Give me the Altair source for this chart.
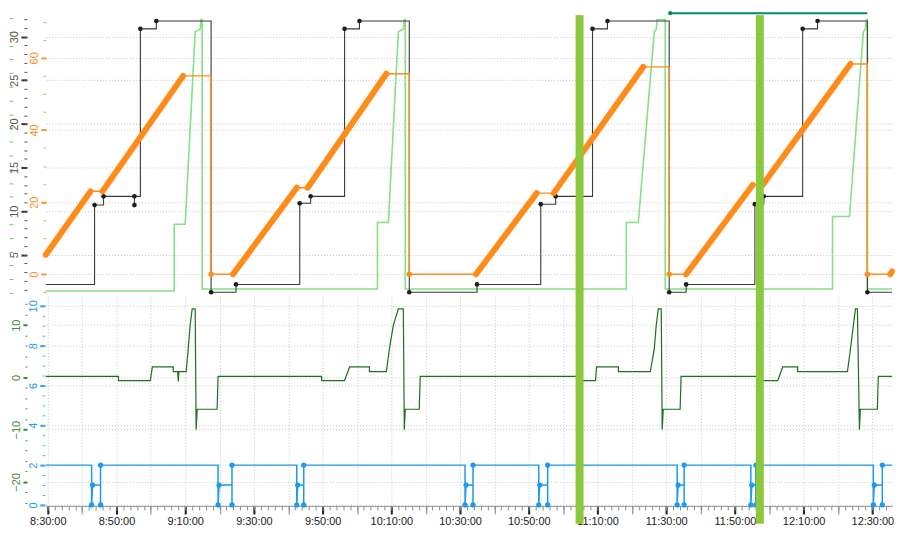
import altair as alt
import pandas as pd

DAY = "2024-01-01T"
X_START, X_END = "08:29:26", "12:35:44"

# ---------------- data ----------------
black_t = [X_START, "08:43:37", "08:43:37", "08:46:14", "08:46:14", "08:55:13", "08:55:13", "08:55:13",
           "08:56:57", "08:56:57", "09:01:36", "09:01:36", "09:17:32", "09:17:32", "09:24:47", "09:24:47",
           "09:43:20", "09:43:20", "09:46:31", "09:46:31", "09:56:23", "09:56:23", "10:00:43", "10:00:43",
           "10:15:13", "10:15:13", "10:34:56", "10:34:56", "10:53:29", "10:53:29", "10:57:50", "10:57:50",
           "11:08:33", "11:08:33", "11:12:54", "11:12:54", "11:30:52", "11:30:52", "11:35:48", "11:35:48",
           "11:55:48", "11:55:48", "11:58:24", "11:58:24", "12:09:43", "12:09:43", "12:14:03", "12:14:03",
           "12:28:33", "12:28:33", X_END]
black_v = [1.6, 1.6, 10.7, 10.7, 11.7, 11.7, 10.7, 11.7,
           11.7, 30.9, 30.9, 31.8, 31.8, 0.7, 0.7, 1.6,
           1.6, 10.9, 10.9, 11.7, 11.7, 30.9, 30.9, 31.8,
           31.8, 0.7, 0.7, 1.6, 1.6, 10.8, 10.8, 11.7,
           11.7, 30.9, 30.9, 31.8, 31.8, 0.7, 0.7, 1.6,
           1.6, 10.8, 10.8, 11.7, 11.7, 30.9, 30.9, 31.8,
           31.8, 0.7, 0.7]
black_m = [0, 0, 1, 0, 1, 1, 1, 0,
           0, 1, 0, 1, 0, 1, 0, 1,
           0, 1, 0, 1, 0, 1, 0, 1,
           0, 1, 0, 1, 0, 1, 0, 1,
           0, 1, 0, 1, 0, 1, 0, 1,
           0, 1, 0, 1, 0, 1, 0, 1,
           0, 1, 0]

orange_t = [X_START, "08:42:28", "08:45:56", "09:09:25", "09:17:32", "09:17:32", "09:23:55", "09:42:28",
            "09:45:39", "10:08:33", "10:15:13", "10:15:13", "10:34:38", "10:52:19", "10:57:15", "11:23:20",
            "11:30:52", "11:30:52", "11:35:48", "11:55:13", "11:58:07", "12:23:37", "12:28:33", "12:28:33",
            "12:35:13", X_END]
orange_v = [5.4, 23.0, 23.0, 55.0, 55.0, 0.0, 0.0, 24.0,
            24.0, 55.6, 55.6, 0.0, 0.0, 22.5, 22.5, 57.5,
            57.5, 0.0, 0.0, 24.8, 24.8, 58.3, 58.3, 0.0,
            0.0, 0.8]
orange_ramp = [1, 0, 1, 0, 0, 0, 1, 0,
               1, 0, 0, 0, 1, 0, 1, 0,
               0, 0, 1, 0, 1, 0, 0, 0,
               1, 0]
orange_m = [0, 0, 0, 0, 0, 1, 0, 0,
            0, 0, 0, 1, 0, 0, 0, 0,
            0, 1, 0, 0, 0, 0, 0, 1,
            0, 0]

lgreen_t = [X_START, "09:06:49", "09:06:49", "09:10:00", "09:12:54", "09:14:21", "09:14:38", "09:14:56",
            "09:14:56", "10:05:57", "10:05:57", "10:09:08", "10:12:02", "10:13:29", "10:13:46", "10:14:03",
            "10:14:03", "11:18:24", "11:18:24", "11:21:53", "11:26:31", "11:27:06", "11:27:23", "11:29:43",
            "11:29:43", "12:18:24", "12:18:24", "12:23:20", "12:27:23", "12:27:58", "12:28:16", "12:28:33",
            "12:28:33", X_END]
lgreen_v = [0.7, 0.7, 25.0, 25.0, 95.0, 96.0, 99.5, 99.5,
            1.4, 1.4, 25.6, 25.6, 95.0, 96.0, 99.5, 99.5,
            1.4, 1.4, 25.6, 25.6, 95.0, 96.0, 99.5, 99.5,
            1.4, 1.4, 27.8, 27.8, 95.0, 96.0, 99.5, 99.5,
            1.4, 1.4]

dgreen_t = [X_START, "08:50:35", "08:50:35", "08:59:51", "09:00:26", "09:06:31", "09:06:31", "09:07:50",
            "09:07:58", "09:08:10", "09:10:17", "09:10:52", "09:11:27", "09:12:02", "09:12:54", "09:13:11",
            "09:13:29", "09:19:17", "09:19:34",
            "09:49:43", "09:49:43", "09:56:23", "09:57:50", "10:03:37", "10:03:37", "10:08:33", "10:09:25",
            "10:10:35", "10:12:02", "10:13:29", "10:13:46", "10:14:03", "10:18:07", "10:18:24",
            "11:04:30", "11:04:30", "11:09:25", "11:09:43", "11:16:05", "11:16:05", "11:25:22", "11:26:31",
            "11:27:06", "11:27:41", "11:28:33", "11:28:50", "11:29:08", "11:34:03", "11:34:20",
            "11:56:40", "11:56:40", "12:02:28", "12:03:55", "12:08:16", "12:08:16", "12:22:45", "12:23:37",
            "12:24:29", "12:25:04", "12:25:39", "12:26:14", "12:26:30", "12:31:27", "12:31:44", X_END]
dgreen_v = [0.2, 0.2, -0.6, -0.6, 2.0, 2.0, 1.1, 1.1,
            -0.8, 1.1, 1.1, 5.4, 10.0, 13.1, 13.1, -10.0,
            -6.1, -6.1, 0.2,
            0.2, -0.6, -0.6, 2.0, 2.0, 1.1, 1.1, 5.4,
            10.0, 13.1, 13.1, -10.0, -6.1, -6.1, 0.2,
            0.2, -0.6, -0.6, 2.0, 2.0, 1.1, 1.1, 5.4,
            10.0, 13.1, 13.1, -10.0, -6.1, -6.1, 0.2,
            0.2, -0.6, -0.6, 2.0, 2.0, 1.1, 1.1, 5.4,
            10.0, 13.1, 13.1, -10.0, -6.1, -6.1, 0.2, 0.2]

blue_down = ["08:42:45", "09:19:34", "09:42:28", "10:31:27", "10:52:54", "11:33:11", "11:54:38", "12:30:17"]
blue_mid = ["08:43:03", "09:19:51", "09:42:45", "10:31:44", "10:53:11", "11:33:28", "11:54:55", "12:30:34"]
blue_up = ["08:45:22", "09:23:37", "09:44:30", "10:33:46", "10:55:30", "11:35:13", "11:56:05", "12:32:54"]
blue_levels = [2, 0, 1]

teal_t = ["11:31:10", "12:28:33"]
cursor_t = ["11:04:47", "11:57:15"]

x_labels = ["08:30:00", "08:50:00", "09:10:00", "09:30:00", "09:50:00", "10:10:00", "10:30:00",
            "10:50:00", "11:10:00", "11:30:00", "11:50:00", "12:10:00", "12:30:00"]
black_ticks = [5, 10, 15, 20, 25, 30]
black_minor = list(range(1, 33))
orange_ticks = [0, 20, 40, 60]
orange_minor = list(range(-5, 71, 5))
lgreen_ticks = list(range(0, 101, 5))
dgreen_ticks = [-20, -10, 0, 10]
dgreen_minor = list(range(-24, 16, 2))
blue_ticks = [0, 2, 4, 6, 8, 10]
blue_minor = [k / 2 for k in range(0, 21)]


def T(s):
    return DAY + s


def dt(s):
    h, m, sec = map(int, s.split(":"))
    return alt.DateTime(year=2024, month=1, date=1, hours=h, minutes=m, seconds=sec)


black_df = pd.DataFrame({"t": [T(s) for s in black_t], "v": black_v, "m": black_m,
                         "i": range(len(black_t))})
orange_df = pd.DataFrame({"t": [T(s) for s in orange_t], "v": orange_v, "m": orange_m,
                          "i": range(len(orange_t))})
thick_rows = []
for k in range(len(orange_t) - 1):
    if orange_ramp[k]:
        thick_rows.append({"t": T(orange_t[k]), "v": orange_v[k], "seg": k, "i": 0})
        thick_rows.append({"t": T(orange_t[k + 1]), "v": orange_v[k + 1], "seg": k, "i": 1})
thick_df = pd.DataFrame(thick_rows)
lgreen_df = pd.DataFrame({"t": [T(s) for s in lgreen_t], "v": lgreen_v, "i": range(len(lgreen_t))})
dgreen_df = pd.DataFrame({"t": [T(s) for s in dgreen_t], "v": dgreen_v, "i": range(len(dgreen_t))})

hi, lo, mid = blue_levels
blue_rows = [{"t": T(X_START), "v": hi, "m": 0}]
for d, mm, u in zip(blue_down, blue_mid, blue_up):
    blue_rows += [{"t": T(d), "v": hi, "m": 0}, {"t": T(d), "v": lo, "m": 1},
                  {"t": T(mm), "v": mid, "m": 1}, {"t": T(u), "v": mid, "m": 0},
                  {"t": T(u), "v": lo, "m": 1}, {"t": T(u), "v": hi, "m": 1}]
blue_rows.append({"t": T(X_END), "v": hi, "m": 0})
blue_df = pd.DataFrame(blue_rows)
blue_df["i"] = range(len(blue_df))

teal_df = pd.DataFrame({"t": [T(s) for s in teal_t], "v": [0.5, 0.5], "i": [0, 1]})
cursor_df = pd.DataFrame({"t": [T(s) for s in cursor_t]})

# 10-minute grid positions and 2-minute minor tick positions
grid_times = []
minor_times = []
for h in range(8, 13):
    for mnt in range(0, 60, 2):
        if (h, mnt) < (8, 30) or (h, mnt) > (12, 34):
            continue
        s = f"{h:02d}:{mnt:02d}:00"
        minor_times.append(s)
        if mnt % 10 == 0:
            grid_times.append(s)

W = 850
H_STRIP = 4
H_TOP = 276
H_BOT = 211
FONT = "Liberation Sans"
XFONT = "'Liberation Sans Narrow', 'Liberation Sans', sans-serif"
GRID = "#c6c6c6"
CURSOR = "#8cc83c"

xscale = alt.Scale(domain=[dt(X_START), dt(X_END)], nice=False)


def xnone():
    return alt.X("t:T", scale=xscale, axis=None)


def yaxis(offset, values, color, labelcolor, ticksize, grid, labels=True, tickwidth=2):
    return alt.Axis(
        orient="left", offset=offset, values=values, title="", domain=False,
        labels=labels, labelAngle=270, labelAlign="center", labelBaseline="bottom",
        labelColor=labelcolor, labelFont=FONT, labelFontSize=11, labelPadding=1,
        tickColor=color, tickSize=ticksize, tickWidth=tickwidth,
        grid=grid, gridColor=GRID, gridDash=[1, 2],
    )


black_scale = alt.Scale(domain=[0.63, 32.13], nice=False, zero=False)
orange_scale = alt.Scale(domain=[-5.15, 71.0], nice=False, zero=False)
lgreen_scale = alt.Scale(domain=[0, 100], nice=False, zero=False)
dgreen_scale = alt.Scale(domain=[-24.6, 15.6], nice=False, zero=False)
blue_scale = alt.Scale(domain=[-0.05, 10.5], nice=False, zero=False)

grid_x_axis = alt.Axis(orient="bottom", grid=True, gridColor=GRID, gridDash=[1, 2],
                       values=[dt(s) for s in grid_times], labels=False, ticks=False,
                       domain=False, title="")

# ---------------- status strip ----------------
strip = alt.layer(
    alt.Chart(teal_df).mark_line(color="#008a6e", strokeWidth=2).encode(
        x=xnone(), y=alt.Y("v:Q", scale=alt.Scale(domain=[0, 1]), axis=None), order="i:Q"),
    alt.Chart(teal_df).transform_filter("datum.i == 0").mark_circle(color="#008a6e", size=18, opacity=1).encode(
        x=xnone(), y=alt.Y("v:Q", scale=alt.Scale(domain=[0, 1]), axis=None)),
    alt.Chart(cursor_df).mark_rule(color=CURSOR, strokeWidth=8).encode(
        x=xnone(), y=alt.value(4), y2=alt.value(H_STRIP + 3)),
).properties(width=W, height=H_STRIP)

# ---------------- top panel ----------------
black_line = alt.Chart(black_df).mark_line(color="#3a3a3a", strokeWidth=1.1).encode(
    x=alt.X("t:T", scale=xscale, axis=grid_x_axis),
    y=alt.Y("v:Q", scale=black_scale, axis=yaxis(19, black_ticks, "#333333", "#555555", 6, True)),
    order="i:Q")
black_pts = alt.Chart(black_df).transform_filter("datum.m == 1").mark_circle(
    color="#1e1e1e", size=22, opacity=1).encode(
    x=xnone(),
    y=alt.Y("v:Q", scale=black_scale,
            axis=yaxis(19, black_minor, "#555555", "#555555", 3, False, labels=False, tickwidth=1)))
orange_thin = alt.Chart(orange_df).mark_line(color="#ff8c1a", strokeWidth=1.4).encode(
    x=xnone(),
    y=alt.Y("v:Q", scale=orange_scale, axis=yaxis(0, orange_ticks, "#ff8c1a", "#ff8c1a", 5, True)),
    order="i:Q")
orange_thick = alt.Chart(thick_df).mark_line(color="#ff8c1a", strokeWidth=6, strokeCap="round").encode(
    x=xnone(),
    y=alt.Y("v:Q", scale=orange_scale,
            axis=yaxis(0, orange_minor, "#ffa040", "#ffa040", 3, False, labels=False, tickwidth=1)),
    detail="seg:N", order="i:Q")
orange_pts = alt.Chart(orange_df).transform_filter("datum.m == 1").mark_circle(
    color="#ff8c1a", size=30, opacity=1).encode(
    x=xnone(), y=alt.Y("v:Q", scale=orange_scale, axis=None))
lgreen_line = alt.Chart(lgreen_df).mark_line(color="#86e086", strokeWidth=1.6).encode(
    x=xnone(),
    y=alt.Y("v:Q", scale=lgreen_scale,
            axis=yaxis(33, lgreen_ticks, "#5fd35f", "#5fd35f", 4, False, labels=False, tickwidth=1)),
    order="i:Q")
cursor_top = alt.Chart(cursor_df).mark_rule(color=CURSOR, strokeWidth=8).encode(
    x=xnone(), y=alt.value(0), y2=alt.value(H_TOP + 3))

top = alt.layer(lgreen_line, black_line, black_pts, orange_thin, orange_thick, orange_pts, cursor_top
                ).resolve_scale(y="independent").properties(width=W, height=H_TOP)

# ---------------- bottom panel ----------------
dgreen_ghost = alt.Chart(dgreen_df).mark_line(opacity=0).encode(
    x=xnone(),
    y=alt.Y("v:Q", scale=dgreen_scale,
            axis=yaxis(19, dgreen_minor, "#4b8a3b", "#4b8a3b", 2, False, labels=False, tickwidth=1)),
    order="i:Q")
dgreen_line = alt.Chart(dgreen_df).mark_line(color="#1f6f1f", strokeWidth=1.2).encode(
    x=alt.X("t:T", scale=xscale,
            axis=alt.Axis(orient="bottom", grid=True, gridColor=GRID, gridDash=[1, 2],
                          values=[dt(s) for s in grid_times], labels=False, ticks=True,
                          tickColor="#a8a8a8", tickSize=8, tickWidth=1.5, domain=False, title="")),
    y=alt.Y("v:Q", scale=dgreen_scale, axis=yaxis(19, dgreen_ticks, "#3f8a2e", "#4b8a3b", 4, True)),
    order="i:Q")
blue_line = alt.Chart(blue_df).mark_line(color="#1d9bea", strokeWidth=1.5).encode(
    x=alt.X("t:T", scale=xscale,
            axis=alt.Axis(orient="bottom", values=[dt(s) for s in x_labels], format="%-H:%M:%S",
                          labelFont=XFONT, labelFontSize=11, labelColor="#222222", labelPadding=2,
                          tickColor="#222222", tickSize=8, tickWidth=2, grid=False,
                          domain=True, domainColor="#9a9a9a", title="")),
    y=alt.Y("v:Q", scale=blue_scale, axis=yaxis(1, blue_ticks, "#1d9bea", "#1d9bea", 5, True)),
    order="i:Q")
blue_pts = alt.Chart(blue_df).transform_filter("datum.m == 1").mark_circle(
    color="#1d9bea", size=28, opacity=1).encode(
    x=xnone(),
    y=alt.Y("v:Q", scale=blue_scale,
            axis=yaxis(1, blue_minor, "#5ab4f0", "#5ab4f0", 3, False, labels=False, tickwidth=1)))
cursor_bot = alt.Chart(cursor_df).mark_rule(color=CURSOR, strokeWidth=8).encode(
    x=alt.X("t:T", scale=xscale,
            axis=alt.Axis(orient="bottom", values=[dt(s) for s in minor_times], labels=False,
                          tickColor="#8a8a8a", tickSize=4, grid=False, domain=False, title="")),
    y=alt.value(0), y2=alt.value(H_BOT + 18))

bottom = alt.layer(dgreen_ghost, dgreen_line, blue_line, blue_pts, cursor_bot
                   ).resolve_scale(y="independent").resolve_axis(x="independent"
                   ).properties(width=W, height=H_BOT)

chart = alt.vconcat(strip, top, bottom, spacing=3, bounds="flush").properties(
    padding=0
).configure_view(stroke=None)

chart.save("out.html", embed_options={"renderer": "svg", "actions": False})
